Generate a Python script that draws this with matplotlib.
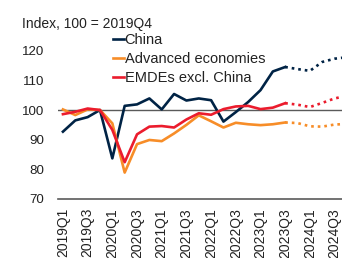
import matplotlib
matplotlib.use('Agg')
import matplotlib.pyplot as plt
import numpy as np

plt.rcParams['font.family'] = ['Liberation Sans', 'DejaVu Sans']

# Quarters 2019Q1 .. 2024Q4
quarters = [f"{y}Q{q}" for y in range(2019, 2025) for q in range(1, 5)]

# Actuals 2019Q1 .. 2023Q3
china = [92.7, 96.5, 97.6, 100.0, 83.7, 101.4, 101.9, 103.9, 100.2, 105.4,
         103.2, 103.9, 103.3, 96.1, 99.3, 102.7, 106.7, 113.0, 114.5]
advanced = [100.2, 98.3, 100.2, 100.0, 95.5, 78.9, 88.5, 89.9, 89.5, 92.1,
            95.0, 98.2, 96.2, 94.1, 95.7, 95.2, 94.9, 95.2, 95.8]
emde = [98.6, 99.4, 100.5, 100.0, 93.3, 82.4, 91.8, 94.4, 94.6, 94.1,
        96.8, 98.9, 98.4, 100.3, 101.2, 101.4, 100.3, 100.8, 102.3]

# Forecasts 2023Q3 .. 2024Q4
china_f = [114.5, 113.8, 113.2, 116.2, 117.3, 117.8]
advanced_f = [95.8, 95.6, 94.5, 94.4, 95.1, 95.3]
emde_f = [102.3, 101.8, 101.0, 102.4, 103.9, 104.8]

series = [
    ("China", china, china_f, "#002345"),
    ("Advanced economies", advanced, advanced_f, "#F78D28"),
    ("EMDEs excl. China", emde, emde_f, "#EB1C2D"),
]

fig = plt.figure(figsize=(3.42, 2.58), dpi=100)
ax = fig.add_axes([0.1696, 0.2287, 0.8304, 0.5748])

x_act = np.arange(len(china))
x_fc = np.arange(len(china) - 1, len(china) - 1 + len(china_f))

ax.axhline(100, color="#5a5a5a", lw=1.0, zorder=1)

for name, act, fc, col in series:
    ax.plot(x_act, act, color=col, lw=1.9, label=name, zorder=3)
    ax.plot(x_fc, fc, color=col, lw=1.9, linestyle=(0, (1, 1.5)), zorder=3)

ax.set_xlim(-0.4, 22.6)
ax.set_ylim(70, 120)
ax.set_yticks(np.arange(70, 121, 10))
ax.set_xticks(np.arange(0, len(quarters), 2))
ax.set_xticklabels(quarters[::2], rotation=90, va="top", ha="center")

for s in ["top", "right", "left"]:
    ax.spines[s].set_visible(False)
ax.spines["bottom"].set_color("#5a5a5a")
ax.spines["bottom"].set_linewidth(1.2)
ax.tick_params(axis="y", length=0, pad=10, labelsize=9.6, colors="#222222")
ax.tick_params(axis="x", length=0, pad=6.5, labelsize=10, colors="#222222")

fig.text(21.5 / 342, 1 - 24 / 258, "Index, 100 = 2019Q4", fontsize=10,
         va="center", ha="left", color="#222222")

leg = ax.legend(loc="upper left", bbox_to_anchor=(113 / 342, 1 - 33 / 258),
                bbox_transform=fig.transFigure, frameon=False, fontsize=10.5,
                handlelength=0.75, handletextpad=0.05, labelspacing=0.36,
                borderpad=0, borderaxespad=0)
for t in leg.get_texts():
    t.set_color("#222222")

fig.savefig("out.png", dpi=100)
